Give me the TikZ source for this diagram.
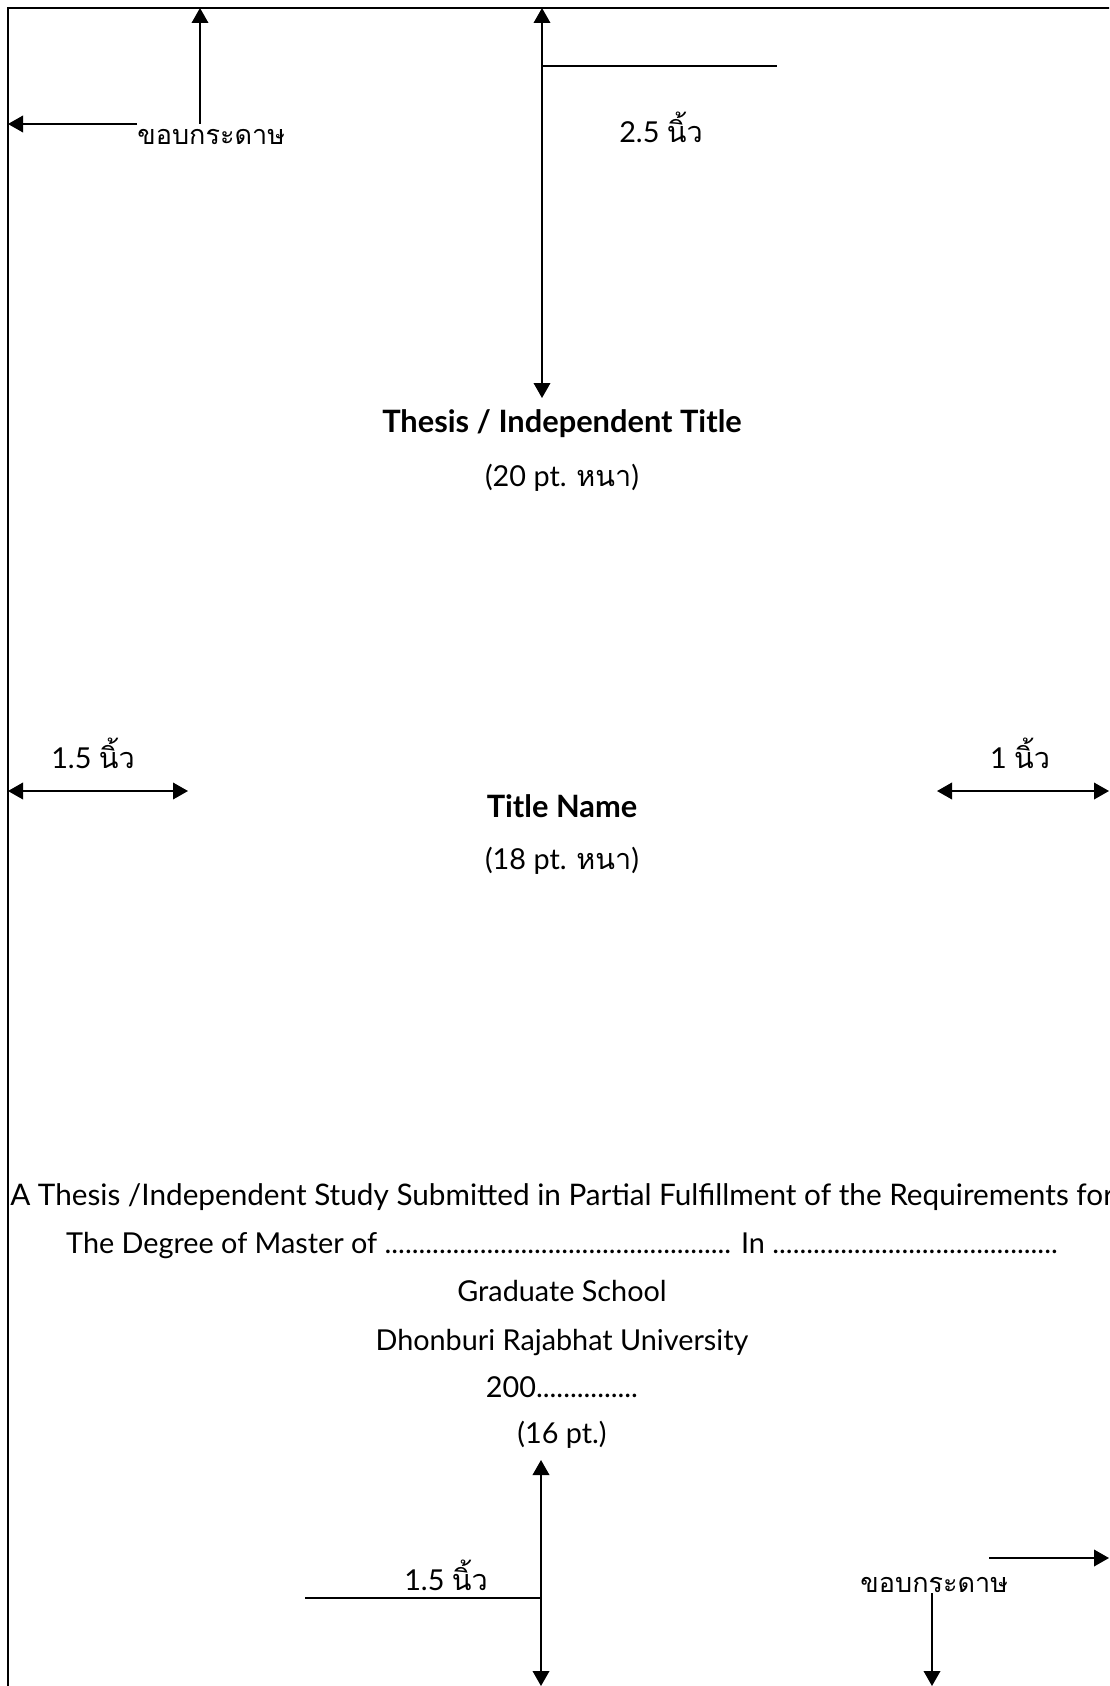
\documentclass[tikz,border=0pt]{standalone}
\usepackage{fontspec}
\setmainfont{Lato}
\newfontfamily\thaifont[Script=Thai]{Loma}
\usetikzlibrary{arrows.meta}
\begin{document}
\begin{tikzpicture}[x=0.5pt, y=-0.5pt,
  arr/.style={line width=0.85pt, -{Triangle[length=7.5pt,width=8.3pt]}},
  darr/.style={line width=0.85pt, {Triangle[length=7.5pt,width=8.3pt]}-{Triangle[length=7.5pt,width=8.3pt]}},
  plainline/.style={line width=0.85pt},
  pageframe/.style={line width=1.3pt},
  txt/.style={inner sep=0pt, anchor=base, font=\fontsize{14.4}{17}\selectfont},
  widetxt/.style={inner sep=0pt, anchor=base, font=\fontsize{14.85}{17}\selectfont},
  boldtxt/.style={inner sep=0pt, anchor=base, font=\fontsize{15.4}{18}\selectfont\bfseries},
  thaitxt/.style={inner sep=0pt, anchor=base west, font=\fontsize{13.5}{17}\selectfont\thaifont}]
\fill[white] (0,0) rectangle (1109,1686);
\useasboundingbox (0,0) rectangle (1109,1686);
\clip (0,0) rectangle (1109,1686);

% page edge
\draw[pageframe] (8,1700) -- (8,8) -- (1120,8);

% top-left: paper edge
\node[thaitxt] (edgeTL) at (137,144) {ขอบกระดาษ};
\coordinate (tlH) at (8,124);
\coordinate (tlV) at (200,8);
\coordinate (tlJ) at (200,124);
\draw[arr] (edgeTL.west |- tlH) -- (tlH);
\draw[arr] (tlJ) -- (tlV);

% top margin 2.5 in
\coordinate (topA) at (542,8);
\coordinate (botA) at (542,398);
\coordinate (lineE) at (777,66);
\draw[darr] (topA) -- (botA);
\draw[plainline] (topA |- lineE) -- (lineE);
\node[txt] (top25) at (661,142) {2.5 {\thaifont นิ้ว}};

% title
\node[boldtxt] (title) at (562,432) {Thesis / Independent Title};
\node[txt] (sub1) at (562,486) {(20 pt. {\thaifont หนา})};

% side margins
\node[txt] (left15) at (93,768) {1.5 {\thaifont นิ้ว}};
\coordinate (lA) at (8,791);
\coordinate (lB) at (188,791);
\draw[darr] (lA) -- (lB);
\node[txt] (right1) at (1020,768) {1 {\thaifont นิ้ว}};
\coordinate (rA) at (937,791);
\coordinate (rB) at (1109,791);
\draw[darr] (rA) -- (rB);

% name
\node[boldtxt] (name) at (562,817) {Title Name};
\node[txt] (sub2) at (562,869) {(18 pt. {\thaifont หนา})};

% bottom block
\node[widetxt] (l1) at (562,1205) {A Thesis /Independent Study Submitted in Partial Fulfillment of the Requirements for};
\node[txt] (l2) at (562,1253) {The Degree of Master of ................................................... In ..........................................};
\node[txt] (l3) at (562,1301) {Graduate School};
\node[txt] (l4) at (562,1350) {Dhonburi Rajabhat University};
\node[txt] (l5) at (562,1397) {200...............};
\node[txt] (l6) at (562,1443) {(16 pt.)};

% bottom margin 1.5 in
\coordinate (bA) at (541,1460);
\coordinate (bB) at (541,1686);
\coordinate (bL) at (305,1598);
\draw[darr] (bA) -- (bB);
\draw[plainline] (bL) -- (bA |- bL);
\node[txt] (bot15) at (446,1590) {1.5 {\thaifont นิ้ว}};

% bottom-right: paper edge
\node[thaitxt] (edgeBR) at (860,1592) {ขอบกระดาษ};
\coordinate (brH1) at (989,1558);
\coordinate (brH2) at (1109,1558);
\coordinate (brV1) at (932,1593);
\coordinate (brV2) at (932,1686);
\draw[arr] (brH1) -- (brH2);
\draw[arr] (brV1) -- (brV2);
\end{tikzpicture}
\end{document}
